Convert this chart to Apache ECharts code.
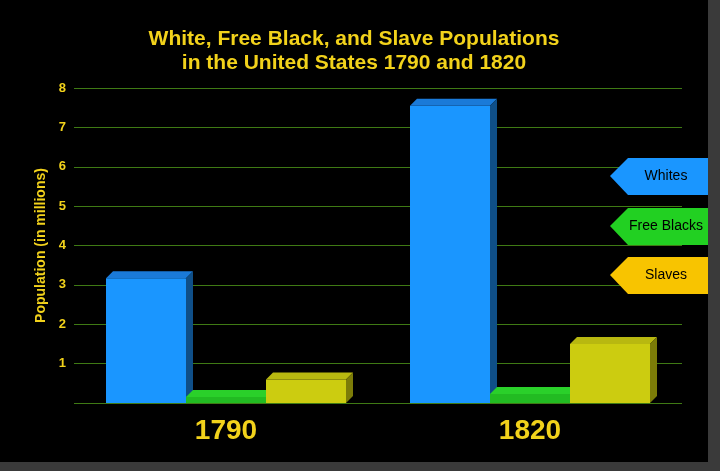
<!DOCTYPE html>
<html>
<head>
<meta charset="utf-8">
<script src="https://cdn.jsdelivr.net/npm/echarts@6/dist/echarts.min.js"></script>
<style>
body{margin:0;background:#3a3a3a;}
#chart{width:708px;height:462px;background:#000;}
</style>
</head>
<body>
<div id="chart"></div>
<script>
var years = ['1790', '1820'];
var seriesNames = ['Whites', 'Free Blacks', 'Slaves'];
var whites = [3.17, 7.55];
var freeBlacks = [0.06, 0.23];
var slaves = [0.6, 1.5];
var faceColors = ['#1a96ff', '#22bb22', '#cccc10'];
var topColors = ['#1a7ad8', '#2ad02a', '#b8b810'];
var sideColors = ['#0f4f88', '#158015', '#7c7c08'];

var chart = echarts.init(document.getElementById('chart'));

function bar3d(idx) {
    return function (params, api) {
        var c = api.coord([api.value(0), api.value(1)]);
        var base = api.coord([api.value(0), 0]);
        var w = 80, d = 7;
        var x = c[0] + (idx - 1.5) * w;
        var y = c[1], y0 = base[1];
        if (y0 - y < 6) y = y0 - 6;
        return {
            type: 'group',
            children: [
                {type: 'rect', shape: {x: x, y: y, width: w, height: y0 - y}, style: {fill: faceColors[idx]}},
                {type: 'polygon', shape: {points: [[x, y], [x + d, y - d], [x + w + d, y - d], [x + w, y]]}, style: {fill: topColors[idx]}},
                {type: 'polygon', shape: {points: [[x + w, y], [x + w + d, y - d], [x + w + d, y0 - d], [x + w, y0]]}, style: {fill: sideColors[idx]}}
            ]
        };
    };
}

var dataSets = [whites, freeBlacks, slaves];
var series = dataSets.map(function (vals, i) {
    return {
        type: 'custom',
        name: seriesNames[i],
        renderItem: bar3d(i),
        data: vals.map(function (v, j) { return [j, v]; })
    };
});

function legendBox(y, label, color) {
    return {
        type: 'group', left: 610, top: y, z: 100,
        children: [
            {type: 'polygon', z: 100, shape: {points: [[0, 18], [18, 0], [98, 0], [98, 37], [18, 37]]}, style: {fill: color}},
            {type: 'text', z: 101, style: {x: 56, y: 18, text: label, fill: '#000', font: '14px "Liberation Sans"', align: 'center', verticalAlign: 'middle'}}
        ]
    };
}

chart.setOption({
    backgroundColor: '#000',
    animation: false,
    title: {
        text: 'White, Free Black, and Slave Populations\nin the United States 1790 and 1820',
        left: 'center', top: 22,
        textStyle: {color: '#f2d21b', fontSize: 21, fontWeight: 'bold', fontFamily: 'Liberation Sans', lineHeight: 24}
    },
    grid: {left: 74, right: 26, top: 88, bottom: 59},
    xAxis: {
        type: 'category', data: years,
        axisLine: {show: false}, axisTick: {show: false},
        axisLabel: {color: '#f2d21b', fontSize: 28, fontWeight: 'bold', fontFamily: 'Liberation Sans', margin: 14}
    },
    yAxis: {
        type: 'value', min: 0, max: 8, interval: 1,
        name: 'Population (in millions)', nameLocation: 'middle', nameGap: 26,
        nameTextStyle: {color: '#f2d21b', fontSize: 14, fontWeight: 'bold', fontFamily: 'Liberation Sans'},
        axisLine: {show: false}, axisTick: {show: false},
        axisLabel: {color: '#f2d21b', fontSize: 13, fontWeight: 'bold', fontFamily: 'Liberation Sans', margin: 8, formatter: function (v) { return v === 0 ? '' : v; }},
        splitLine: {lineStyle: {color: '#3f7a14', width: 1}}
    },
    graphic: [
        legendBox(158, 'Whites', '#1a96ff'),
        legendBox(208, 'Free Blacks', '#22d022'),
        legendBox(257, 'Slaves', '#f8c400')
    ],
    series: series
});
</script>
</body>
</html>
